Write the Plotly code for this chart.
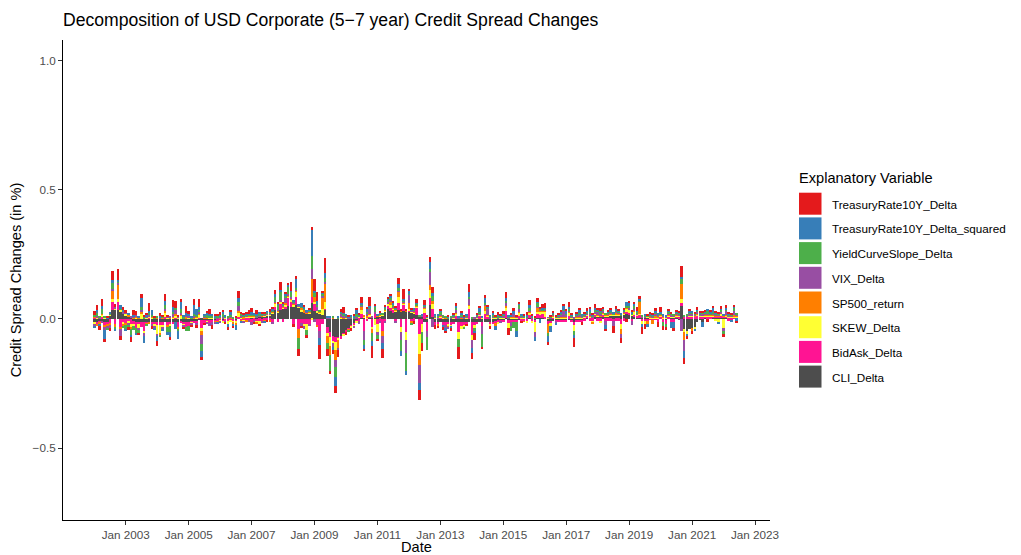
import pandas as pd
import plotly.graph_objects as go

# Monthly decomposition, Jan 2002 .. Jun 2022 (values in %)
dates = pd.date_range("2002-01-01", periods=246, freq="MS")

TreasuryRate10Y_Delta = [
    0.012, 0.02, -0.015, 0.025, -0.012, 0.006, -0.01, 0.035, 0.01, 0.04, -0.015, 0.012,
    0.01, -0.012, -0.02, 0.018, 0.015, -0.008, 0.012, 0.004, 0.01, 0.03, -0.01, 0.005,
    -0.018, 0.012, 0.006, 0.025, 0.008, -0.01, 0.025, 0.028, 0.006, 0.01, -0.006, 0.03,
    0.01, -0.008, 0.02, -0.012, 0.03, -0.012, -0.008, 0.006, 0.02, -0.015, 0.008, 0.006,
    0.01, 0.008, -0.006, -0.012, 0.006, -0.004, 0.004, 0.025, 0.006, 0.004, 0.008, 0.012,
    0.015, -0.008, 0.018, -0.01, 0.006, 0.004, -0.006, 0.01, 0.01, 0.018, 0.006, 0.03,
    0.006, 0.01, 0.01, 0.035, -0.01, 0.012, -0.03, -0.008, 0.008, -0.01, 0.006, 0.012,
    0.045, 0.035, -0.055, 0.006, 0.06, -0.03, -0.015, -0.015, -0.025, -0.03, 0.01, 0.02,
    -0.01, 0.004, -0.012, 0.006, 0.006, 0.004, 0.025, -0.008, 0.008, 0.035, -0.045, 0.006,
    -0.01, 0.004, -0.035, 0.006, 0.008, 0.01, 0.008, 0.004, 0.02, 0.006, 0.04, 0.006,
    0.006, 0.004, -0.012, 0.016, -0.04, -0.03, 0.02, 0.004, 0.02, 0.022, -0.015, -0.01,
    0.006, -0.012, -0.008, 0.004, -0.01, 0.006, 0.012, -0.05, 0.004, 0.004, -0.008, 0.03,
    -0.025, -0.025, 0.006, 0.006, -0.01, 0.01, 0.006, -0.012, 0.008, 0.006, 0.012, 0.004,
    0.008, 0.025, -0.03, 0.004, 0.01, 0.004, 0.006, -0.006, 0.004, 0.012, 0.018, 0.004,
    0.004, 0.015, 0.004, 0.015, 0.02, -0.01, 0.004, 0.008, 0.004, 0.004, 0.008, 0.004,
    0.004, 0.02, 0.004, -0.035, 0.004, 0.004, -0.012, 0.004, 0.012, 0.004, 0.004, 0.015,
    0.004, 0.012, 0.006, -0.008, 0.004, 0.008, -0.025, 0.01, 0.004, -0.02, 0.004, -0.012,
    0.004, 0.004, 0.004, 0.015, 0.012, -0.025, -0.02, 0.004, 0.004, 0.004, 0.012, -0.018,
    0.02, -0.015, -0.012, 0.004, 0.004, -0.01, 0.004, 0.004, 0.042, -0.025, -0.012, 0.004,
    -0.012, 0.004, 0.012, 0.004, 0.006, 0.004, -0.012, 0.004, 0.004, 0.004, 0.004, 0.012,
    -0.01, 0.012, 0.004, 0.004, 0.004, -0.008,
]

TreasuryRate10Y_Delta_squared = [
    -0.01, 0.01, -0.008, 0.012, -0.035, 0.004, 0.005, 0.01, -0.006, 0.006, 0.015, 0.01,
    -0.01, 0.008, -0.006, 0.008, -0.008, 0.005, 0.035, -0.03, 0.006, 0.008, 0.018, -0.006,
    -0.02, 0.006, -0.008, 0.015, -0.012, -0.02, 0.02, -0.025, -0.03, 0.03, 0.008, 0.01,
    0.008, 0.005, 0.035, 0.025, 0.012, -0.025, 0.004, 0.01, 0.005, 0.004, 0.006, -0.006,
    0.006, 0.008, 0.004, -0.012, 0.015, -0.01, -0.02, 0.015, -0.006, 0.005, 0.004, 0.005,
    0.012, 0.006, 0.005, 0.004, 0.004, -0.004, 0.004, 0.003, 0.004, 0.01, 0.004, 0.004,
    0.004, 0.005, 0.004, 0.004, 0.006, 0.035, 0.004, 0.015, 0.006, 0.004, 0.004, 0.1,
    0.01, 0.015, -0.025, 0.004, 0.02, 0.006, 0.004, -0.01, -0.035, 0.004, 0.004, 0.004,
    0.006, 0.004, 0.003, 0.005, 0.015, 0.004, 0.004, -0.015, 0.012, 0.006, -0.02, 0.004,
    0.004, 0.004, -0.02, 0.004, 0.004, 0.008, 0.004, 0.004, 0.016, -0.02, 0.004, -0.017,
    0.015, 0.004, 0.004, 0.004, -0.025, 0.004, 0.004, 0.004, 0.025, 0.012, 0.004, 0.004,
    0.004, -0.006, -0.01, 0.004, -0.006, 0.004, 0.004, 0.004, 0.01, 0.004, 0.004, 0.02,
    -0.02, -0.01, 0.004, 0.02, 0.004, 0.022, 0.004, 0.004, 0.01, -0.015, 0.004, 0.004,
    0.004, 0.01, 0.004, 0.01, 0.012, -0.025, 0.004, 0.004, 0.004, 0.006, 0.01, 0.004,
    -0.015, 0.004, -0.015, 0.004, 0.004, -0.025, -0.02, 0.004, -0.006, 0.004, 0.004, 0.018,
    0.012, 0.008, 0.004, -0.012, 0.004, 0.014, 0.004, 0.004, 0.004, 0.012, 0.004, 0.008,
    0.004, 0.004, 0.004, -0.015, 0.004, 0.004, 0.004, 0.006, 0.004, 0.004, 0.004, 0.012,
    0.012, 0.004, 0.01, 0.004, 0.004, -0.015, 0.004, -0.015, 0.004, 0.004, 0.004, 0.004,
    0.004, 0.004, 0.004, 0.004, -0.025, -0.025, 0.004, 0.004, 0.004, -0.025, -0.01, 0.008,
    0.004, -0.005, 0.004, 0.004, -0.018, 0.004, 0.004, 0.004, 0.015, 0.004, -0.006, 0.004,
    0.004, 0.004, 0.004, -0.006, 0.004, -0.006,
]

YieldCurveSlope_Delta = [
    0.008, 0.012, 0.005, 0.02, 0.006, -0.008, 0.005, 0.025, -0.01, 0.008, 0.004, -0.01,
    -0.012, -0.006, -0.025, -0.015, -0.02, -0.01, 0.012, 0.005, -0.006, 0.008, 0.008, 0.004,
    0.005, -0.006, 0.005, 0.015, -0.02, -0.025, 0.006, 0.01, -0.01, 0.015, 0.004, -0.015,
    -0.02, 0.004, 0.008, 0.006, 0.008, -0.025, 0.004, 0.012, 0.006, 0.005, 0.004, 0.005,
    0.004, 0.012, 0.004, 0.004, 0.004, 0.004, 0.003, 0.015, 0.01, 0.008, 0.004, 0.004,
    0.003, 0.004, 0.004, 0.006, 0.004, 0.005, 0.004, 0.004, 0.006, 0.018, 0.02, 0.035,
    0.004, 0.006, 0.03, 0.02, 0.004, 0.004, -0.04, 0.004, 0.004, -0.02, 0.004, 0.05,
    0.015, 0.004, 0.004, 0.005, 0.015, -0.02, -0.06, 0.004, -0.04, 0.004, 0.004, 0.006,
    0.004, -0.006, 0.004, 0.004, 0.015, 0.004, 0.004, -0.02, 0.004, 0.006, -0.03, 0.02,
    -0.015, 0.004, 0.004, 0.006, 0.01, 0.008, 0.008, 0.005, 0.012, -0.045, 0.004, -0.07,
    0.004, -0.01, 0.004, 0.004, 0.004, -0.045, 0.004, -0.05, 0.012, 0.02, 0.004, 0.006,
    0.012, 0.004, 0.004, 0.004, 0.004, 0.004, 0.01, -0.03, 0.004, -0.006, 0.004, 0.004,
    0.004, -0.01, 0.004, 0.004, -0.05, 0.004, 0.004, 0.004, 0.004, 0.004, 0.006, 0.004,
    0.004, 0.008, 0.004, -0.02, -0.025, -0.035, 0.015, 0.004, 0.004, 0.004, 0.012, 0.004,
    0.004, 0.016, 0.004, 0.004, 0.004, -0.012, 0.004, 0.004, 0.004, 0.004, 0.004, 0.004,
    0.004, 0.004, 0.004, -0.015, 0.006, 0.004, 0.004, 0.004, 0.004, 0.004, 0.004, 0.008,
    0.004, 0.004, 0.008, 0.004, 0.004, 0.004, 0.004, 0.004, 0.004, 0.004, 0.004, 0.006,
    0.008, 0.004, 0.01, 0.006, 0.004, 0.004, 0.004, 0.004, 0.004, 0.004, 0.004, 0.004,
    0.004, -0.015, -0.01, 0.008, 0.008, 0.004, 0.004, 0.004, 0.022, 0.004, 0.004, 0.004,
    0.004, 0.004, 0.004, 0.004, 0.008, 0.004, 0.012, 0.004, 0.008, 0.004, 0.004, 0.01,
    -0.012, 0.004, 0.004, 0.004, 0.015, 0.004,
]

VIX_Delta = [
    -0.008, 0.006, 0.004, -0.006, -0.01, -0.006, -0.012, 0.008, 0.008, 0.006, -0.025, 0.006,
    0.004, -0.008, 0.005, 0.005, 0.006, -0.006, 0.01, -0.01, 0.004, 0.006, -0.006, -0.008,
    -0.008, 0.004, -0.005, 0.008, 0.005, 0.004, 0.012, 0.015, 0.004, 0.004, -0.006, 0.004,
    0.005, -0.006, 0.006, -0.008, 0.006, -0.035, 0.003, -0.004, -0.012, -0.012, -0.006, 0.004,
    -0.004, 0.003, -0.005, 0.003, 0.004, 0.003, 0.003, 0.02, 0.003, -0.004, 0.003, -0.006,
    -0.012, -0.006, 0.003, 0.004, -0.004, 0.003, 0.003, 0.003, -0.008, 0.004, 0.003, 0.004,
    0.004, 0.025, 0.004, 0.008, 0.004, 0.006, 0.004, -0.012, -0.01, 0.004, -0.006, 0.04,
    -0.01, 0.02, -0.03, 0.012, 0.004, 0.004, 0.004, -0.015, -0.025, -0.008, 0.012, 0.012,
    0.004, 0.003, 0.003, -0.004, 0.003, -0.015, 0.006, -0.035, 0.012, 0.02, 0.004, 0.004,
    -0.012, -0.008, -0.03, -0.006, 0.004, 0.006, 0.004, -0.006, 0.004, -0.03, 0.006, -0.05,
    0.03, 0.003, 0.004, 0.003, -0.07, 0.004, 0.004, -0.025, 0.05, -0.03, 0.003, 0.003,
    0.004, 0.003, -0.012, -0.008, 0.004, 0.003, 0.01, 0.003, 0.008, 0.003, 0.004, 0.024,
    -0.03, 0.004, 0.003, 0.003, -0.03, 0.004, 0.025, 0.003, 0.003, 0.003, 0.003, -0.006,
    0.006, 0.01, 0.003, -0.015, 0.012, 0.003, 0.012, 0.003, 0.003, 0.003, 0.004, 0.003,
    -0.02, 0.003, 0.003, 0.003, 0.003, 0.003, 0.003, 0.003, -0.006, 0.003, 0.012, 0.025,
    0.01, 0.004, 0.003, 0.003, 0.003, 0.012, 0.003, 0.003, 0.003, 0.012, 0.003, 0.004,
    0.012, 0.01, 0.004, -0.018, 0.003, 0.003, -0.02, 0.008, 0.003, -0.015, 0.003, 0.003,
    0.006, -0.015, 0.008, 0.003, 0.003, 0.003, 0.003, 0.003, 0.003, 0.003, 0.012, 0.003,
    0.003, 0.003, 0.003, 0.003, 0.003, 0.003, 0.003, 0.003, -0.045, -0.045, 0.003, 0.006,
    0.01, 0.008, 0.008, 0.003, 0.003, 0.003, 0.003, 0.003, 0.003, 0.003, 0.003, 0.003,
    -0.012, 0.018, 0.003, 0.003, 0.015, 0.003,
]

SP500_return = [
    0.004, -0.004, -0.006, 0.004, -0.008, -0.01, -0.008, 0.03, -0.012, 0.055, -0.01, -0.008,
    -0.01, 0.005, -0.008, 0.004, 0.005, 0.004, 0.006, 0.003, -0.005, -0.005, 0.004, 0.003,
    0.004, -0.01, 0.004, 0.006, -0.006, 0.004, 0.004, 0.006, -0.006, 0.006, 0.003, 0.005,
    0.003, 0.003, 0.004, 0.005, 0.004, -0.018, 0.004, 0.003, 0.003, 0.003, -0.004, -0.004,
    0.003, 0.003, 0.003, 0.003, 0.003, -0.004, -0.006, 0.008, -0.004, 0.003, -0.003, 0.003,
    0.003, 0.003, -0.004, 0.003, 0.003, -0.003, 0.003, -0.003, 0.003, 0.004, 0.003, 0.003,
    0.003, 0.004, 0.004, 0.004, 0.003, 0.004, -0.035, 0.01, 0.012, 0.006, 0.004, 0.07,
    0.02, -0.008, 0.004, 0.04, 0.075, -0.03, -0.035, 0.005, -0.04, -0.03, 0.004, 0.003,
    0.003, -0.004, 0.003, 0.003, 0.003, 0.003, 0.012, 0.004, 0.003, 0.004, -0.015, 0.003,
    0.004, 0.003, -0.02, 0.003, 0.003, 0.012, 0.003, 0.003, 0.02, 0.004, 0.004, 0.004,
    0.025, -0.004, 0.003, 0.003, -0.045, 0.003, 0.003, 0.003, 0.02, 0.012, 0.003, -0.004,
    0.003, 0.003, 0.003, -0.004, 0.003, 0.003, 0.003, 0.003, 0.003, 0.003, 0.003, 0.004,
    0.003, 0.003, 0.003, 0.003, 0.003, 0.02, 0.003, 0.003, 0.003, -0.012, 0.003, 0.003,
    0.003, 0.008, 0.003, 0.003, 0.003, 0.003, 0.003, 0.003, -0.003, 0.003, 0.003, 0.003,
    0.003, 0.016, 0.003, 0.003, 0.003, -0.035, 0.003, 0.003, 0.003, 0.003, 0.003, 0.003,
    0.003, 0.008, 0.003, 0.003, 0.003, 0.003, 0.003, 0.003, 0.003, 0.003, -0.006, 0.003,
    0.003, 0.003, 0.003, 0.003, 0.003, 0.003, 0.003, 0.003, 0.003, -0.018, 0.003, 0.003,
    0.003, 0.003, 0.003, 0.003, 0.045, 0.003, 0.003, -0.01, 0.003, -0.015, 0.003, 0.003,
    0.003, 0.003, 0.003, 0.003, 0.003, 0.003, 0.003, 0.003, 0.06, -0.03, 0.003, 0.003,
    -0.012, 0.003, 0.003, 0.003, 0.003, 0.003, 0.003, 0.003, 0.003, 0.003, 0.003, 0.003,
    0.003, 0.003, 0.003, 0.003, 0.003, 0.003,
]

SKEW_Delta = [
    -0.006, 0.005, 0.003, 0.01, 0.004, 0.003, 0.006, 0.012, 0.005, 0.01, 0.005, -0.006,
    0.006, -0.006, -0.01, -0.006, 0.004, -0.02, 0.02, -0.008, 0.004, 0.004, 0.005, -0.005,
    -0.035, -0.03, -0.01, 0.02, 0.004, -0.006, 0.005, 0.008, 0.005, 0.012, -0.006, 0.003,
    0.004, -0.005, 0.003, 0.004, 0.012, -0.01, 0.003, -0.004, 0.004, 0.004, 0.003, 0.003,
    -0.004, -0.005, 0.004, -0.01, -0.004, -0.008, -0.006, 0.015, 0.004, -0.004, 0.004, 0.004,
    0.004, 0.004, -0.006, -0.012, 0.003, 0.003, 0.004, 0.003, 0.004, 0.012, 0.004, 0.006,
    0.004, 0.006, 0.006, 0.008, 0.005, 0.02, 0.005, 0.004, -0.008, -0.025, 0.004, -0.004,
    0.004, 0.004, 0.004, 0.025, 0.025, -0.01, -0.035, -0.01, -0.03, -0.005, 0.004, -0.004,
    0.004, 0.003, -0.005, -0.004, -0.004, 0.004, 0.015, 0.003, 0.004, 0.006, -0.01, -0.025,
    -0.03, 0.004, 0.003, 0.004, 0.006, 0.012, 0.004, 0.004, 0.025, -0.02, 0.004, -0.03,
    0.004, 0.004, 0.004, 0.003, -0.075, -0.03, 0.015, 0.004, 0.032, 0.02, 0.004, 0.003,
    0.004, 0.004, 0.003, -0.006, -0.008, 0.004, 0.01, -0.025, -0.012, -0.012, 0.004, 0.012,
    -0.02, -0.012, 0.004, 0.004, 0.004, 0.012, 0.004, -0.006, 0.004, 0.004, -0.006, 0.004,
    0.004, 0.015, -0.02, 0.004, 0.004, 0.004, 0.015, 0.004, 0.004, -0.004, 0.01, -0.006,
    -0.04, 0.004, 0.015, 0.01, 0.02, 0.004, -0.015, 0.004, 0.004, 0.004, 0.004, 0.004,
    0.004, 0.01, 0.004, -0.025, 0.006, 0.004, 0.004, 0.004, 0.004, 0.004, -0.008, 0.004,
    0.004, -0.008, 0.008, 0.004, 0.004, 0.004, 0.004, 0.004, 0.004, -0.02, 0.004, 0.012,
    0.012, 0.004, 0.012, 0.004, 0.004, -0.01, -0.01, 0.004, 0.004, 0.004, 0.004, 0.004,
    0.004, 0.004, 0.004, 0.004, 0.004, 0.004, 0.004, 0.004, 0.016, -0.01, -0.012, 0.004,
    0.004, -0.01, 0.004, 0.004, 0.004, 0.004, 0.004, 0.004, 0.004, -0.008, -0.012, 0.008,
    -0.035, 0.004, 0.004, 0.004, 0.004, 0.004,
]

BidAsk_Delta = [
    0.005, -0.008, -0.005, 0.006, -0.012, -0.01, -0.015, 0.03, -0.018, 0.032, -0.03, -0.012,
    -0.015, -0.01, -0.02, -0.012, -0.025, -0.008, -0.02, -0.035, -0.008, 0.004, -0.01, -0.012,
    -0.012, -0.012, -0.012, 0.006, -0.012, -0.008, -0.01, 0.004, -0.02, -0.006, -0.01, -0.02,
    -0.018, -0.006, -0.01, -0.01, 0.005, -0.03, -0.01, -0.006, -0.01, -0.008, -0.008, -0.006,
    -0.006, -0.008, -0.006, -0.006, -0.006, -0.005, -0.008, 0.006, -0.006, -0.005, -0.006, -0.005,
    -0.01, -0.006, -0.008, -0.006, -0.008, -0.006, -0.005, -0.005, -0.01, 0.012, -0.01, 0.025,
    -0.012, 0.01, 0.032, 0.018, -0.02, 0.03, -0.04, -0.015, -0.02, -0.018, -0.02, 0.025,
    0.03, -0.025, -0.045, -0.02, 0.004, -0.025, -0.02, -0.02, -0.02, -0.006, -0.012, -0.004,
    -0.006, -0.004, -0.004, -0.01, -0.006, -0.006, 0.015, -0.045, -0.008, 0.006, -0.03, 0.015,
    -0.02, -0.006, -0.045, -0.008, 0.012, 0.012, 0.012, -0.01, 0.025, -0.03, 0.025, -0.05,
    0.006, -0.01, -0.006, 0.03, -0.06, -0.02, 0.025, -0.035, 0.025, 0.032, -0.012, -0.01,
    0.006, -0.012, -0.012, -0.01, -0.01, -0.008, 0.012, -0.04, -0.015, -0.01, -0.008, 0.04,
    -0.05, -0.012, -0.008, 0.012, -0.015, 0.02, 0.008, -0.01, -0.008, -0.008, -0.006, -0.006,
    -0.006, 0.025, -0.01, -0.008, -0.006, -0.006, 0.01, -0.006, -0.005, -0.006, 0.012, -0.006,
    -0.008, 0.02, 0.012, 0.015, 0.006, -0.01, -0.006, 0.006, -0.005, -0.005, -0.005, -0.005,
    -0.005, 0.012, -0.006, -0.012, -0.006, -0.006, -0.006, -0.006, 0.008, -0.006, -0.006, 0.008,
    -0.006, -0.006, 0.004, -0.006, -0.006, -0.006, -0.008, -0.006, -0.006, -0.02, -0.006, 0.01,
    0.008, -0.008, 0.008, 0.006, 0.012, -0.008, -0.008, -0.008, -0.005, -0.005, -0.005, -0.012,
    0.006, -0.012, -0.015, 0.006, -0.01, -0.01, 0.008, 0.008, 0.01, 0.008, 0.008, 0.008,
    0.008, 0.008, 0.012, 0.008, 0.008, 0.008, 0.006, 0.006, 0.006, 0.006, 0.006, 0.008,
    0.006, 0.004, -0.006, -0.006, 0.004, 0.004,
]

CLI_Delta = [
    -0.012, -0.012, -0.01, -0.01, -0.012, -0.01, 0.012, 0.035, 0.035, 0.035, 0.03, 0.02,
    0.015, 0.01, 0.005, -0.008, -0.01, -0.01, -0.012, -0.012, -0.01, -0.012, -0.012, -0.01,
    -0.012, -0.012, -0.01, -0.012, -0.012, -0.012, -0.01, -0.012, -0.012, -0.01, -0.01, -0.012,
    -0.01, -0.008, -0.006, -0.006, -0.005, -0.005, -0.004, -0.004, -0.005, -0.005, -0.003, -0.003,
    0.003, -0.003, -0.003, -0.003, 0.003, -0.002, -0.003, 0.003, 0.003, 0.003, 0.005, 0.005,
    0.005, 0.006, 0.006, 0.008, 0.008, 0.01, 0.012, 0.015, 0.02, 0.035, 0.025, 0.035,
    0.04, 0.04, 0.05, 0.048, 0.05, 0.055, 0.045, 0.03, 0.025, 0.02, 0.02, 0.06,
    0.03, 0.025, 0.02, 0.015, 0.035, -0.03, -0.05, -0.065, -0.07, -0.07, -0.065, -0.055,
    -0.045, -0.035, -0.025, -0.015, -0.005, 0.004, 0.005, 0.005, 0.003, 0.004, 0.005, 0.005,
    0.008, 0.01, 0.015, 0.03, 0.04, 0.03, 0.025, 0.03, 0.035, 0.03, 0.03, 0.03,
    0.028, 0.025, 0.02, 0.015, 0.01, 0.008, -0.01, -0.01, 0.055, 0.006, -0.01, -0.012,
    -0.012, -0.012, -0.012, -0.012, -0.012, -0.01, -0.012, -0.012, -0.012, -0.012, -0.012, -0.012,
    -0.012, -0.012, -0.012, -0.012, -0.012, -0.012, -0.012, -0.01, -0.01, -0.008, -0.006, -0.005,
    -0.004, 0.004, -0.004, -0.004, -0.004, -0.004, -0.003, -0.003, -0.003, -0.003, 0.003, -0.003,
    -0.003, 0.003, 0.003, 0.003, 0.003, -0.008, -0.008, -0.008, -0.006, -0.006, -0.004, -0.004,
    -0.004, -0.004, -0.006, -0.01, -0.006, -0.004, -0.004, 0.004, 0.004, 0.004, 0.006, 0.008,
    0.01, 0.01, 0.01, 0.01, 0.01, 0.015, 0.012, 0.015, 0.015, 0.015, 0.018, 0.018,
    0.015, 0.012, 0.008, 0.006, 0.005, 0.004, 0.004, 0.004, 0.003, 0.003, 0.003, 0.003,
    0.003, 0.003, -0.005, 0.003, 0.004, 0.004, 0.003, -0.005, 0.05, -0.04, -0.045, -0.04,
    -0.035, -0.03, -0.01, -0.005, -0.012, 0.003, 0.003, 0.003, 0.004, 0.004, 0.004, 0.004,
    0.005, 0.005, 0.004, 0.004, 0.003, 0.003,
]

variable_names = [
    "TreasuryRate10Y_Delta", "TreasuryRate10Y_Delta_squared", "YieldCurveSlope_Delta",
    "VIX_Delta", "SP500_return", "SKEW_Delta", "BidAsk_Delta", "CLI_Delta",
]
variable_colors = ["#E41A1C", "#377EB8", "#4DAF4A", "#984EA3",
                   "#FF7F00", "#FFFF33", "#FF1493", "#4D4D4D"]
series = [TreasuryRate10Y_Delta, TreasuryRate10Y_Delta_squared, YieldCurveSlope_Delta,
          VIX_Delta, SP500_return, SKEW_Delta, BidAsk_Delta, CLI_Delta]

x_tick_dates = pd.date_range("2003-01-01", "2023-01-01", freq="24MS")

n = len(dates)
for nm, s in zip(variable_names, series):
    assert len(s) == n, f"{nm} has {len(s)} values, expected {n}"

FONT = "Liberation Sans, Arial, Helvetica, sans-serif"
BAR_W = 28.5 * 24 * 3600 * 1000

fig = go.Figure()
# first trace is stacked nearest zero (ggplot puts the first level furthest out)
for nm, col, s in reversed(list(zip(variable_names, variable_colors, series))):
    fig.add_trace(go.Bar(
        x=dates, y=s, name=nm, width=BAR_W,
        marker=dict(color=col, line=dict(width=0)),
        showlegend=False,
        hovertemplate="%{x|%b %Y}<br>" + nm + ": %{y:.3f}<extra></extra>",
    ))

# plot-area geometry in pixels
L, R, T, B = 63, 770, 40, 520
W, H = 1021, 555

def px(xp):
    return (xp - L) / (R - L)

def py(yp):
    return (B - yp) / (B - T)

shapes, annotations = [], []
annotations.append(dict(
    text="Explanatory Variable", x=px(797), y=py(177.5), xref="paper", yref="paper",
    xanchor="left", yanchor="middle", showarrow=False,
    font=dict(family=FONT, size=14.6, color="black")))
for k, (nm, col) in enumerate(zip(variable_names, variable_colors)):
    top = 192.7 + k * 24.7
    shapes.append(dict(type="rect", xref="paper", yref="paper",
                       x0=px(799), x1=px(821.5), y0=py(top + 22), y1=py(top),
                       fillcolor=col, line=dict(width=0)))
    annotations.append(dict(
        text=nm, x=px(830), y=py(top + 11.5), xref="paper", yref="paper",
        xanchor="left", yanchor="middle", showarrow=False,
        font=dict(family=FONT, size=11.7, color="black")))

fig.update_layout(
    width=W, height=H,
    barmode="relative", bargap=0,
    plot_bgcolor="white", paper_bgcolor="white",
    margin=dict(l=L, r=W - R, t=T, b=H - B, autoexpand=False),
    font=dict(family=FONT, color="#4D4D4D"),
    title=dict(text="Decomposition of USD Corporate (5\u22127 year) Credit Spread Changes",
               x=0, xref="paper", xanchor="left", y=1 - 20 / H, yref="container",
               yanchor="middle", font=dict(family=FONT, size=17.6, color="black")),
    xaxis=dict(type="date", range=["2001-01-03", "2023-06-24"],
               tickvals=list(x_tick_dates),
               ticktext=[d.strftime("%b %Y") for d in x_tick_dates],
               showline=True, linecolor="black", linewidth=1,
               ticks="outside", ticklen=4, tickwidth=1, tickcolor="#333333",
               showgrid=False, zeroline=False, automargin=False,
               tickfont=dict(family=FONT, size=11.7, color="#4D4D4D"),
               title=dict(text="Date", standoff=3,
                          font=dict(family=FONT, size=14.6, color="black"))),
    yaxis=dict(range=[-0.779, 1.081],
               tickvals=[-0.5, 0.0, 0.5, 1.0],
               ticktext=["\u22120.5", "0.0", "0.5", "1.0"],
               showline=True, linecolor="black", linewidth=1,
               ticks="outside", ticklen=4, tickwidth=1, tickcolor="#333333",
               showgrid=False, zeroline=False, automargin=False,
               tickfont=dict(family=FONT, size=11.7, color="#4D4D4D"),
               title=dict(text="Credit Spread Changes (in %)", standoff=7,
                          font=dict(family=FONT, size=14.6, color="black"))),
    shapes=shapes, annotations=annotations,
)

fig.write_html("out.html",
               config={"displayModeBar": False},
               post_script="document.body.style.margin='0';document.body.style.padding='0';")
